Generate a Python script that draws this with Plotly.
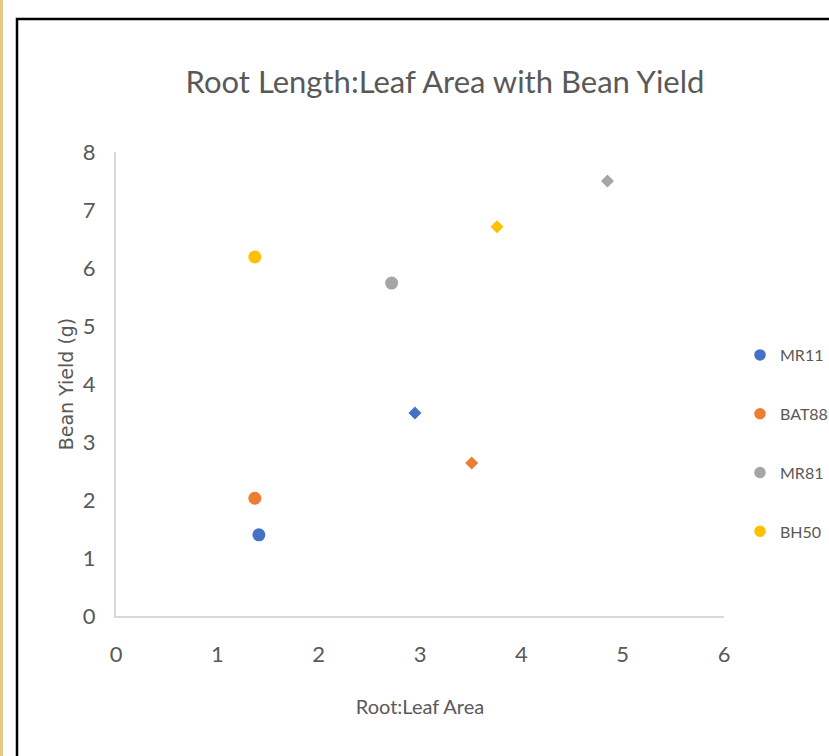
import plotly.graph_objects as go

# ---- data ----
series_names = ["MR11", "BAT88", "MR81", "BH50"]
series_colors = ["#4472C4", "#ED7D31", "#A5A5A5", "#FFC000"]
root_leaf_x = [
    [1.41, 2.95],   # MR11
    [1.37, 3.51],   # BAT88
    [2.72, 4.85],   # MR81
    [1.37, 3.76],   # BH50
]
bean_yield_y = [
    [1.40, 3.50],
    [2.03, 2.64],
    [5.74, 7.50],
    [6.19, 6.71],
]
point_symbols = ["circle", "diamond"]
point_sizes = [13, 10]

x_ticks = [0, 1, 2, 3, 4, 5, 6]
y_ticks = [0, 1, 2, 3, 4, 5, 6, 7, 8]

TXT = "#595959"
FONT = "Lato, Roboto, Liberation Sans, sans-serif"

W, H = 829, 756
L, R, T, B = 116, 829 - 724, 152, 756 - 616
PW, PH = W - L - R, H - T - B


def px_to_paper_x(px):
    return (px - L) / PW


def px_to_paper_y(py):
    return (H - B - py) / PH


fig = go.Figure()
for i, name in enumerate(series_names):
    fig.add_trace(go.Scatter(
        x=root_leaf_x[i], y=bean_yield_y[i], name=name, mode="markers",
        legendgroup=name,
        marker=dict(color=series_colors[i], symbol=point_symbols, opacity=1,
                    size=point_sizes, line=dict(width=0)),
    ))

fig.update_layout(
    width=W, height=H,
    margin=dict(l=L, r=R, t=T, b=B, autoexpand=False),
    paper_bgcolor="white", plot_bgcolor="white",
    font=dict(family=FONT, color=TXT),
    title=dict(text="Root Length:Leaf Area with Bean Yield",
               x=px_to_paper_x(445), xref="paper", xanchor="center",
               y=1 - 82 / H, yanchor="middle",
               font=dict(size=31, color=TXT, family=FONT)),
    xaxis=dict(range=[0, 6], tickvals=x_ticks, showgrid=False, zeroline=False,
               showline=True, linecolor="#D9D9D9", linewidth=2,
               ticks="", ticklabelstandoff=18,
               tickfont=dict(size=22, color=TXT, family=FONT),
               title=dict(text="Root:Leaf Area", standoff=34,
                          font=dict(size=20, color=TXT, family=FONT))),
    yaxis=dict(range=[0, 8], tickvals=y_ticks, showgrid=False, zeroline=False,
               showline=True, linecolor="#D9D9D9", linewidth=2,
               ticks="", ticklabelstandoff=14,
               tickfont=dict(size=22, color=TXT, family=FONT),
               title=dict(text="Bean Yield (g)", standoff=4,
                          font=dict(size=19, color=TXT,
                                    family="DejaVu Sans, sans-serif"))),
    legend=dict(x=px_to_paper_x(740), xanchor="left",
                y=px_to_paper_y(338), yanchor="top",
                traceorder="grouped", tracegroupgap=35,
                itemwidth=30,
                font=dict(size=16, color=TXT, family=FONT),
                bgcolor="rgba(0,0,0,0)"),
    showlegend=True,
    shapes=[
        # black frame of the pasted chart (right/bottom edges lie outside the image)
        dict(type="rect", xref="paper", yref="paper",
             x0=px_to_paper_x(17), x1=px_to_paper_x(840),
             y0=px_to_paper_y(770), y1=px_to_paper_y(19),
             line=dict(color="#000000", width=2.5), fillcolor="rgba(0,0,0,0)"),
        # tan strip on the far left
        dict(type="line", xref="paper", yref="paper",
             x0=px_to_paper_x(1.5), x1=px_to_paper_x(1.5),
             y0=px_to_paper_y(0), y1=px_to_paper_y(H),
             line=dict(color="#E6C98A", width=3)),
    ],
)

fig.write_html("out.html")
